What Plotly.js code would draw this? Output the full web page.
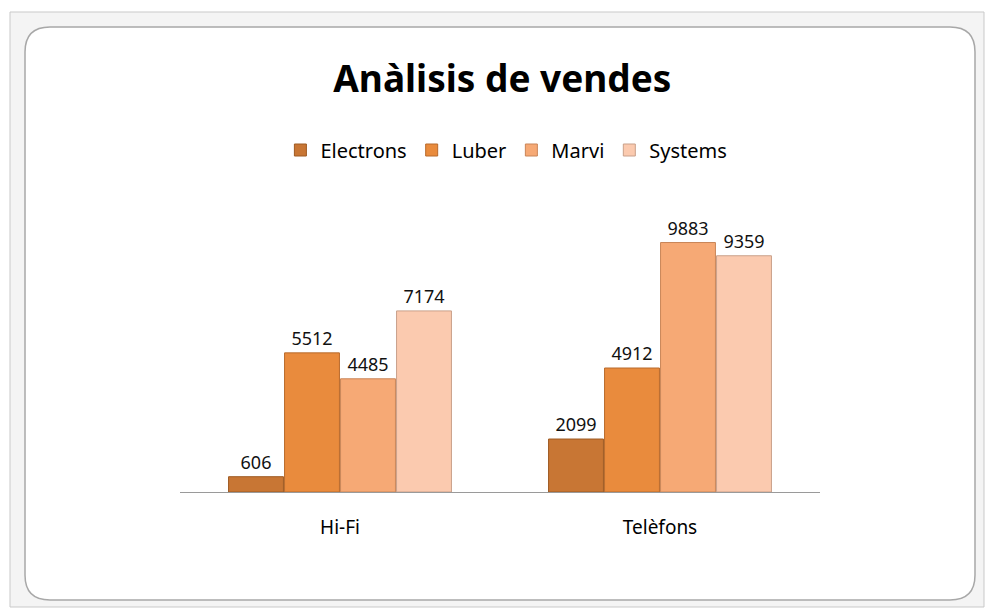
<!DOCTYPE html>
<html><head><meta charset="utf-8">
<script src="https://cdn.plot.ly/plotly-3.0.1.min.js"></script>
<style>html,body{margin:0;padding:0;background:#fff;}#chart{width:985px;height:610px;}</style>
</head><body><div id="chart"></div>
<script>
const categories = ["Hi-Fi", "Telèfons"];
const seriesNames = ["Electrons", "Luber", "Marvi", "Systems"];
const electrons = [606, 2099];
const luber = [5512, 4912];
const marvi = [4485, 9883];
const systems = [7174, 9359];
const seriesValues = [electrons, luber, marvi, systems];
const colors = ["#C87634", "#E98B3D", "#F6A975", "#FBCAAF"];
const edge = ["#9E5A22", "#B86A2C", "#C98558", "#C9A08A"];

const W = 985, H = 610, ml = 180, mr = 165, mt = 232, mb = 118;
const pw = W - ml - mr, ph = H - mt - mb;
const px = x => (x - ml) / pw;
const py = y => (H - mb - y) / ph;

const traces = seriesNames.map((n, i) => ({
  type: "bar", name: n, x: categories, y: seriesValues[i],
  marker: {color: colors[i], line: {color: edge[i], width: 1}},
  text: seriesValues[i].map(String), textposition: "outside",
  textfont: {family: "Noto Sans, sans-serif", size: 18, color: "#111"},
  cliponaxis: false
}));

const shapes = [
  {type: "rect", xref: "paper", yref: "paper", x0: px(10), x1: px(984), y0: py(12), y1: py(607),
   line: {color: "#c9c9c9", width: 1}, fillcolor: "#f4f4f4", layer: "below"},
  {type: "path", xref: "paper", yref: "paper", layer: "below",
   path: (() => {
     const l = px(25), r = px(975), t = py(27), b = py(600);
     const rx = 25 / pw, ry = 25 / ph;
     return `M ${l + rx} ${t} L ${r - rx} ${t} Q ${r} ${t} ${r} ${t - ry} L ${r} ${b + ry} Q ${r} ${b} ${r - rx} ${b} L ${l + rx} ${b} Q ${l} ${b} ${l} ${b + ry} L ${l} ${t - ry} Q ${l} ${t} ${l + rx} ${t} Z`;
   })(),
   line: {color: "#a8a8a8", width: 1.5}, fillcolor: "#ffffff"}
];

const layout = {
  width: W, height: H,
  margin: {l: ml, r: mr, t: mt, b: mb},
  paper_bgcolor: "#ffffff", plot_bgcolor: "rgba(0,0,0,0)",
  title: {text: "<b>Anàlisis de vendes</b>", x: 0.51, xanchor: "center", y: 0.87, yanchor: "middle",
          font: {family: "Noto Sans, sans-serif", size: 37, color: "#000"}},
  showlegend: true,
  legend: {orientation: "h", x: 0.51, xanchor: "center", y: py(150), yanchor: "middle",
           font: {family: "Noto Sans, sans-serif", size: 20, color: "#000"},
           itemwidth: 30, traceorder: "normal", bgcolor: "rgba(0,0,0,0)"},
  barmode: "group", bargap: 0.3, bargroupgap: 0.02,
  xaxis: {showgrid: false, showline: true, linecolor: "#9a9a9a", ticks: "", zeroline: false,
          tickfont: {family: "Noto Sans, sans-serif", size: 19, color: "#000"}, ticklabelstandoff: 18},
  yaxis: {range: [0, 10300], visible: false, showgrid: false, zeroline: false},
  shapes: shapes
};

Plotly.newPlot("chart", traces, layout, {displayModeBar: false, staticPlot: true});
</script></body></html>
